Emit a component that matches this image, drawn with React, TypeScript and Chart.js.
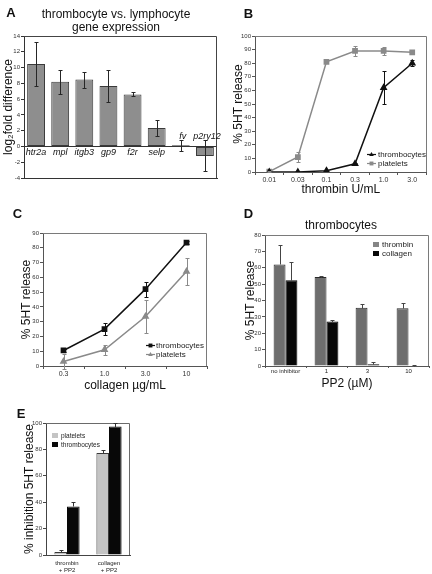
import React, { useEffect, useRef } from "react";
import { Chart, registerables } from "chart.js";

Chart.register(...registerables);

const W = 432;
const H = 574;
const FONT = "'Liberation Sans', Arial, 'DejaVu Sans', sans-serif";

// ---------- Panel A : thrombocyte vs. lymphocyte gene expression ----------
const geneNames = ["htr2a", "mpl", "itgb3", "gp9", "f2r", "selp", "fv", "p2ry12"];
const geneFold = [10.45, 8.2, 8.5, 7.65, 6.6, 2.35, 0.15, -1.2];
const geneErrLow = [7.6, 6.7, 7.4, 5.6, 6.35, 1.3, -0.6, -3.1];
const geneErrHigh = [13.3, 9.65, 9.5, 9.65, 6.9, 3.4, 0.85, 0.85];

// ---------- Panel B : thrombin dose response ----------
const thrombinDoses = ["0.01", "0.03", "0.1", "0.3", "1.0", "3.0"];
const bThrombocytes = [0, 0, 1, 6, 62, 80];
const bThrombocytesErr = [0, 0, 0.5, 0.8, 12, 2];
const bPlatelets = [0.3, 11, 81, 89, 89, 88];
const bPlateletsErr = [0.5, 4, 0.8, 4, 3, 0.8];

// ---------- Panel C : collagen dose response ----------
const collagenDoses = ["0.3", "1.0", "3.0", "10"];
const cThrombocytes = [10.5, 25, 52, 83.5];
const cThrombocytesErr = [0.8, 4, 5, 1];
const cPlatelets = [3, 11, 33.5, 64];
const cPlateletsErr = [5, 3.5, 11, 9];

// ---------- Panel D : thrombocytes, PP2 inhibition ----------
const pp2Doses = ["no inhibitor", "1", "3", "10"];
const dThrombin = [62, 54.3, 35.6, 35.2];
const dThrombinErr = [11.7, 0.8, 2, 3.3];
const dCollagen = [52.3, 27.1, 1, 0];
const dCollagenErr = [11, 0.8, 1.3, 0.5];

// ---------- Panel E : % inhibition ----------
const eGroups = [["thrombin", "+ PP2"], ["collagen", "+ PP2"]];
const ePlatelets = [2.3, 77.3];
const ePlateletsErr = [1.5, 2.2];
const eThrombocytes = [36.8, 97.3];
const eThrombocytesErr = [3, 2.8];

// ---------------- helpers ----------------
const f = (size: number, style?: string) => ({ size, family: FONT, style: style as any });

function makeFrame(color: string) {
  return {
    id: "frame",
    beforeDatasetsDraw(chart: any) {
      const { ctx, chartArea: a } = chart;
      ctx.save();
      ctx.strokeStyle = color;
      ctx.lineWidth = 1;
      const t = Math.round(a.top) + 0.5;
      const r = Math.round(a.right) - 0.5;
      ctx.beginPath();
      ctx.moveTo(Math.round(a.left), t);
      ctx.lineTo(r, t);
      ctx.lineTo(r, Math.round(a.bottom));
      ctx.stroke();
      ctx.restore();
    },
  };
}

const errorBars = {
  id: "errorBars",
  afterDatasetsDraw(chart: any) {
    const { ctx } = chart;
    chart.data.datasets.forEach((ds: any, di: number) => {
      if (!ds.errLow || !ds.errHigh) return;
      const meta = chart.getDatasetMeta(di);
      const ys = chart.scales[meta.yAxisID];
      ctx.save();
      ctx.strokeStyle = ds.errColor || "#222";
      ctx.lineWidth = 1;
      meta.data.forEach((el: any, i: number) => {
        const lo = ds.errLow[i];
        const hi = ds.errHigh[i];
        if (lo == null || hi == null || hi - lo < 0.05) return;
        const x = Math.round(el.x) + 0.5;
        const y1 = Math.round(ys.getPixelForValue(hi)) + 0.5;
        const y2 = Math.round(ys.getPixelForValue(lo)) + 0.5;
        const c = ds.cap || 2;
        ctx.beginPath();
        ctx.moveTo(x, y1);
        ctx.lineTo(x, y2);
        ctx.moveTo(x - c, y1);
        ctx.lineTo(x + c + 0.01, y1);
        if (ds.capBoth) {
          ctx.moveTo(x - c, y2);
          ctx.lineTo(x + c + 0.01, y2);
        }
        ctx.stroke();
      });
      ctx.restore();
    });
  },
};

function drawMarker(ctx: any, style: string, x: number, y: number, r: number, color: string) {
  ctx.fillStyle = color;
  ctx.beginPath();
  if (style === "triangle") {
    ctx.moveTo(x, y - r);
    ctx.lineTo(x + r * 0.9, y + r * 0.6);
    ctx.lineTo(x - r * 0.9, y + r * 0.6);
    ctx.closePath();
    ctx.fill();
  } else {
    ctx.fillRect(x - r * 0.75, y - r * 0.75, r * 1.5, r * 1.5);
  }
}

function makeLegend(o: { fx: number; fy: number; gap: number; size: number; kind: "line" | "box"; mark: number; dx: number }) {
  return {
    id: "panelLegend",
    afterDraw(chart: any) {
      const { ctx, chartArea: a } = chart;
      const x0 = a.left + o.fx * (a.right - a.left);
      const y0 = a.top + o.fy * (a.bottom - a.top);
      ctx.save();
      ctx.font = `${o.size}px ${FONT}`;
      ctx.textBaseline = "middle";
      ctx.textAlign = "left";
      chart.data.datasets.forEach((ds: any, i: number) => {
        const y = Math.round(y0 + i * o.gap) + 0.5;
        if (o.kind === "line") {
          ctx.strokeStyle = ds.borderColor;
          ctx.lineWidth = 1.2;
          ctx.beginPath();
          ctx.moveTo(x0, y);
          ctx.lineTo(x0 + o.mark, y);
          ctx.stroke();
          drawMarker(ctx, ds.pointStyle, x0 + o.mark / 2, y, 2.6, ds.borderColor);
        } else {
          ctx.fillStyle = ds.legendColor || ds.backgroundColor;
          ctx.fillRect(Math.round(x0), Math.round(y - o.mark / 2), o.mark, o.mark - 1);
        }
        ctx.fillStyle = "#222";
        ctx.fillText(ds.label, x0 + o.dx, y + 0.5);
      });
      ctx.restore();
    },
  };
}

const geneLabels = {
  id: "geneLabels",
  afterDatasetsDraw(chart: any) {
    const { ctx } = chart;
    const xs = chart.scales.x;
    const ys = chart.scales.y;
    const y0 = ys.getPixelForValue(0);
    ctx.save();
    ctx.font = `italic 9px ${FONT}`;
    ctx.fillStyle = "#111";
    ctx.textAlign = "center";
    geneNames.forEach((n, i) => {
      const x = xs.getPixelForValue(i);
      if (geneFold[i] >= 1) {
        ctx.textBaseline = "top";
        ctx.fillText(n, x, y0 + 1.5);
      } else {
        ctx.textBaseline = "bottom";
        ctx.fillText(n, x + 2, y0 - 5);
      }
    });
    ctx.restore();
  },
};

type Box = { l: number; r: number; t: number; b: number; yTitleX: number; xBottom: number };

function layoutFor(box: Box, titleSize = 12) {
  const padL = box.yTitleX - titleSize * 0.6;
  return {
    padL,
    layout: { padding: { left: padL, top: box.t, right: W - box.r, bottom: H - box.xBottom } },
    fitY: (s: any) => {
      s.width = box.l - padL;
      s.paddingTop = 0;
      s.paddingBottom = 0;
    },
    fitX: (s: any) => {
      s.height = box.xBottom - box.b;
      s.paddingLeft = 0;
      s.paddingRight = 0;
    },
  };
}

const base = {
  responsive: false,
  animation: false as const,
  devicePixelRatio: 1,
  events: [] as any[],
};

function yAxis(fitY: any, min: number, max: number, step: number, title: string, axisColor: string) {
  return {
    min,
    max,
    ticks: { stepSize: step, font: f(6), color: "#333", padding: 1 },
    grid: { drawOnChartArea: false, tickLength: 3, color: axisColor, tickColor: axisColor },
    border: { color: axisColor },
    title: { display: true, text: title, font: f(12), color: "#111", padding: 0 },
    afterFit: fitY,
  };
}

// ---------------- charts ----------------
function chartA(cv: HTMLCanvasElement) {
  const box: Box = { l: 24, r: 217, t: 36, b: 178, yTitleX: 9, xBottom: 178 };
  const L = layoutFor(box);
  return new Chart(cv, {
    type: "bar",
    data: {
      labels: geneNames,
      datasets: [
        {
          label: "log2 fold difference",
          data: geneFold,
          backgroundColor: "#8e8e8e",
          borderColor: "#3a3a3a",
          borderWidth: 1,
          borderSkipped: false,
          barPercentage: 0.74,
          categoryPercentage: 1,
          errLow: geneErrLow,
          errHigh: geneErrHigh,
          errColor: "#262626",
          cap: 2,
          capBoth: true,
        } as any,
      ],
    },
    options: {
      ...base,
      layout: L.layout,
      plugins: { legend: { display: false }, tooltip: { enabled: false } },
      scales: {
        x: {
          ticks: { display: false },
          grid: { display: false },
          border: { display: true, color: "#333" },
          afterFit: (s: any) => {
            s.height = 0;
            s.paddingLeft = 0;
            s.paddingRight = 0;
          },
        },
        y: {
          min: -4,
          max: 14,
          ticks: { stepSize: 2, font: f(6), color: "#333", padding: 1 },
          grid: {
            color: (c: any) => (c.tick && c.tick.value === 0 ? "#333" : "rgba(0,0,0,0)"),
            tickColor: "#333",
            tickLength: 3,
          },
          border: { color: "#333" },
          title: { display: true, text: "log₂fold difference", font: f(12), color: "#111", padding: 0 },
          afterFit: L.fitY,
        },
      },
    } as any,
    plugins: [makeFrame("#444"), errorBars, geneLabels],
  });
}

function lineChart(
  cv: HTMLCanvasElement,
  box: Box,
  labels: string[],
  series: { label: string; data: number[]; err: number[]; color: string; style: string }[],
  yMax: number,
  xTitle: string,
  legend: any
) {
  const L = layoutFor(box);
  return new Chart(cv, {
    type: "line",
    data: {
      labels,
      datasets: series.map((s) => ({
        label: s.label,
        data: s.data,
        borderColor: s.color,
        backgroundColor: s.color,
        pointBackgroundColor: s.color,
        pointBorderColor: s.color,
        pointStyle: s.style,
        pointRadius: 3,
        borderWidth: 1.5,
        tension: 0,
        errLow: s.data.map((v, i) => v - s.err[i]),
        errHigh: s.data.map((v, i) => v + s.err[i]),
        errColor: s.color,
        cap: 2,
        capBoth: true,
      })) as any,
    },
    options: {
      ...base,
      layout: L.layout,
      plugins: { legend: { display: false }, tooltip: { enabled: false } },
      scales: {
        x: {
          offset: true,
          ticks: { font: f(7), color: "#333", padding: 0.5, maxRotation: 0, autoSkip: false },
          grid: { offset: true, drawOnChartArea: false, tickLength: 3, color: "#555" },
          border: { color: "#555" },
          title: { display: true, text: xTitle, font: f(12), color: "#111", padding: 0 },
          afterFit: L.fitX,
        },
        y: yAxis(L.fitY, 0, yMax, 10, "% 5HT release", "#555"),
      },
    } as any,
    plugins: [makeFrame("#7a7a7a"), errorBars, makeLegend(legend)],
  });
}

function chartB(cv: HTMLCanvasElement) {
  return lineChart(
    cv,
    { l: 255, r: 428, t: 36, b: 172, yTitleX: 239, xBottom: 197.2 },
    thrombinDoses,
    [
      { label: "thrombocytes", data: bThrombocytes, err: bThrombocytesErr, color: "#111111", style: "triangle" },
      { label: "platelets", data: bPlatelets, err: bPlateletsErr, color: "#8a8a8a", style: "rect" },
    ],
    100,
    "thrombin U/mL",
    { fx: 0.653, fy: 0.868, gap: 9, size: 8, kind: "line", mark: 9, dx: 11 }
  );
}

function chartC(cv: HTMLCanvasElement) {
  return lineChart(
    cv,
    { l: 43, r: 207, t: 233, b: 366, yTitleX: 27, xBottom: 393.2 },
    collagenDoses,
    [
      { label: "thrombocytes", data: cThrombocytes, err: cThrombocytesErr, color: "#111111", style: "rect" },
      { label: "platelets", data: cPlatelets, err: cPlateletsErr, color: "#8a8a8a", style: "triangle" },
    ],
    90,
    "collagen µg/mL",
    { fx: 0.628, fy: 0.842, gap: 9, size: 8, kind: "line", mark: 9, dx: 10 }
  );
}

function chartD(cv: HTMLCanvasElement) {
  const box: Box = { l: 265, r: 429, t: 235, b: 366, yTitleX: 251, xBottom: 391.2 };
  const L = layoutFor(box);
  return new Chart(cv, {
    type: "bar",
    data: {
      labels: pp2Doses,
      datasets: [
        {
          label: "thrombin",
          data: dThrombin,
          backgroundColor: "#6e6e6e",
          legendColor: "#858585",
          borderColor: "#2a2a2a",
          borderWidth: 1,
          categoryPercentage: 0.58,
          barPercentage: 1,
          errLow: dThrombin,
          errHigh: dThrombin.map((v, i) => v + dThrombinErr[i]),
          errColor: "#444",
          cap: 2,
        },
        {
          label: "collagen",
          data: dCollagen,
          backgroundColor: "#070707",
          borderColor: "#070707",
          borderWidth: 1,
          categoryPercentage: 0.58,
          barPercentage: 1,
          errLow: dCollagen,
          errHigh: dCollagen.map((v, i) => v + dCollagenErr[i]),
          errColor: "#444",
          cap: 2,
        },
      ] as any,
    },
    options: {
      ...base,
      layout: L.layout,
      plugins: { legend: { display: false }, tooltip: { enabled: false } },
      scales: {
        x: {
          ticks: { font: f(6), color: "#222", padding: 0, maxRotation: 0, autoSkip: false },
          grid: { offset: true, drawOnChartArea: false, tickLength: 2, color: "#555" },
          border: { color: "#555" },
          title: { display: true, text: "PP2 (µM)", font: f(12), color: "#111", padding: 0 },
          afterFit: L.fitX,
        },
        y: yAxis(L.fitY, 0, 80, 10, "% 5HT release", "#555"),
      },
    } as any,
    plugins: [makeFrame("#7a7a7a"), errorBars, makeLegend({ fx: 0.659, fy: 0.069, gap: 9, size: 8, kind: "box", mark: 6, dx: 9 })],
  });
}

function chartE(cv: HTMLCanvasElement) {
  const box: Box = { l: 46, r: 130, t: 423, b: 555, yTitleX: 30, xBottom: 574 };
  const L = layoutFor(box);
  return new Chart(cv, {
    type: "bar",
    data: {
      labels: eGroups as any,
      datasets: [
        {
          label: "platelets",
          data: ePlatelets,
          backgroundColor: "#c4c4c4",
          borderColor: "#3a3a3a",
          borderWidth: 1,
          categoryPercentage: 0.6,
          barPercentage: 1,
          errLow: ePlatelets,
          errHigh: ePlatelets.map((v, i) => v + ePlateletsErr[i]),
          errColor: "#333",
          cap: 2,
        },
        {
          label: "thrombocytes",
          data: eThrombocytes,
          backgroundColor: "#080808",
          borderColor: "#080808",
          borderWidth: 1,
          categoryPercentage: 0.6,
          barPercentage: 1,
          errLow: eThrombocytes,
          errHigh: eThrombocytes.map((v, i) => v + eThrombocytesErr[i]),
          errColor: "#333",
          cap: 2,
        },
      ] as any,
    },
    options: {
      ...base,
      layout: L.layout,
      plugins: { legend: { display: false }, tooltip: { enabled: false } },
      scales: {
        x: {
          ticks: { font: { ...f(6), lineHeight: 1.15 }, color: "#222", padding: 4.5, maxRotation: 0, autoSkip: false },
          grid: { display: false, drawTicks: false },
          border: { color: "#444" },
          afterFit: L.fitX,
        },
        y: {
          ...yAxis(L.fitY, 0, 100, 20, "% inhibition 5HT release", "#444"),
        },
      },
    } as any,
    plugins: [makeFrame("#6a6a6a"), errorBars, makeLegend({ fx: 0.071, fy: 0.091, gap: 9, size: 6.5, kind: "box", mark: 6, dx: 9 })],
  });
}

const panelLetters = [
  { t: "A", x: 11, y: 11.5 },
  { t: "B", x: 248.5, y: 12.5 },
  { t: "C", x: 17.5, y: 212.5 },
  { t: "D", x: 248.5, y: 212.5 },
  { t: "E", x: 21, y: 412.5 },
];

export default function App() {
  const rA = useRef<HTMLCanvasElement>(null);
  const rB = useRef<HTMLCanvasElement>(null);
  const rC = useRef<HTMLCanvasElement>(null);
  const rD = useRef<HTMLCanvasElement>(null);
  const rE = useRef<HTMLCanvasElement>(null);

  useEffect(() => {
    const charts = [
      chartA(rA.current!),
      chartB(rB.current!),
      chartC(rC.current!),
      chartD(rD.current!),
      chartE(rE.current!),
    ];
    return () => charts.forEach((c) => c.destroy());
  }, []);

  const cvStyle: React.CSSProperties = { position: "absolute", left: 0, top: 0 };

  return (
    <div
      style={{
        position: "absolute",
        left: 0,
        top: 0,
        width: W,
        height: H,
        background: "#fff",
        overflow: "hidden",
        fontFamily: FONT,
        color: "#111",
      }}
    >
      {[rA, rB, rC, rD, rE].map((r, i) => (
        <canvas key={i} ref={r} width={W} height={H} style={cvStyle} />
      ))}
      {panelLetters.map((p) => (
        <div
          key={p.t}
          style={{
            position: "absolute",
            left: p.x,
            top: p.y,
            transform: "translate(-50%, -50%)",
            fontWeight: "bold",
            fontSize: 13,
            lineHeight: "13px",
          }}
        >
          {p.t}
        </div>
      ))}
      <div
        style={{
          position: "absolute",
          left: 116,
          top: 7.6,
          transform: "translateX(-50%)",
          fontSize: 12,
          lineHeight: "13.4px",
          textAlign: "center",
          whiteSpace: "nowrap",
        }}
      >
        thrombocyte vs. lymphocyte
        <br />
        gene expression
      </div>
      <div
        style={{
          position: "absolute",
          left: 341,
          top: 219.3,
          transform: "translateX(-50%)",
          fontSize: 12,
          lineHeight: "13px",
          whiteSpace: "nowrap",
        }}
      >
        thrombocytes
      </div>
    </div>
  );
}
